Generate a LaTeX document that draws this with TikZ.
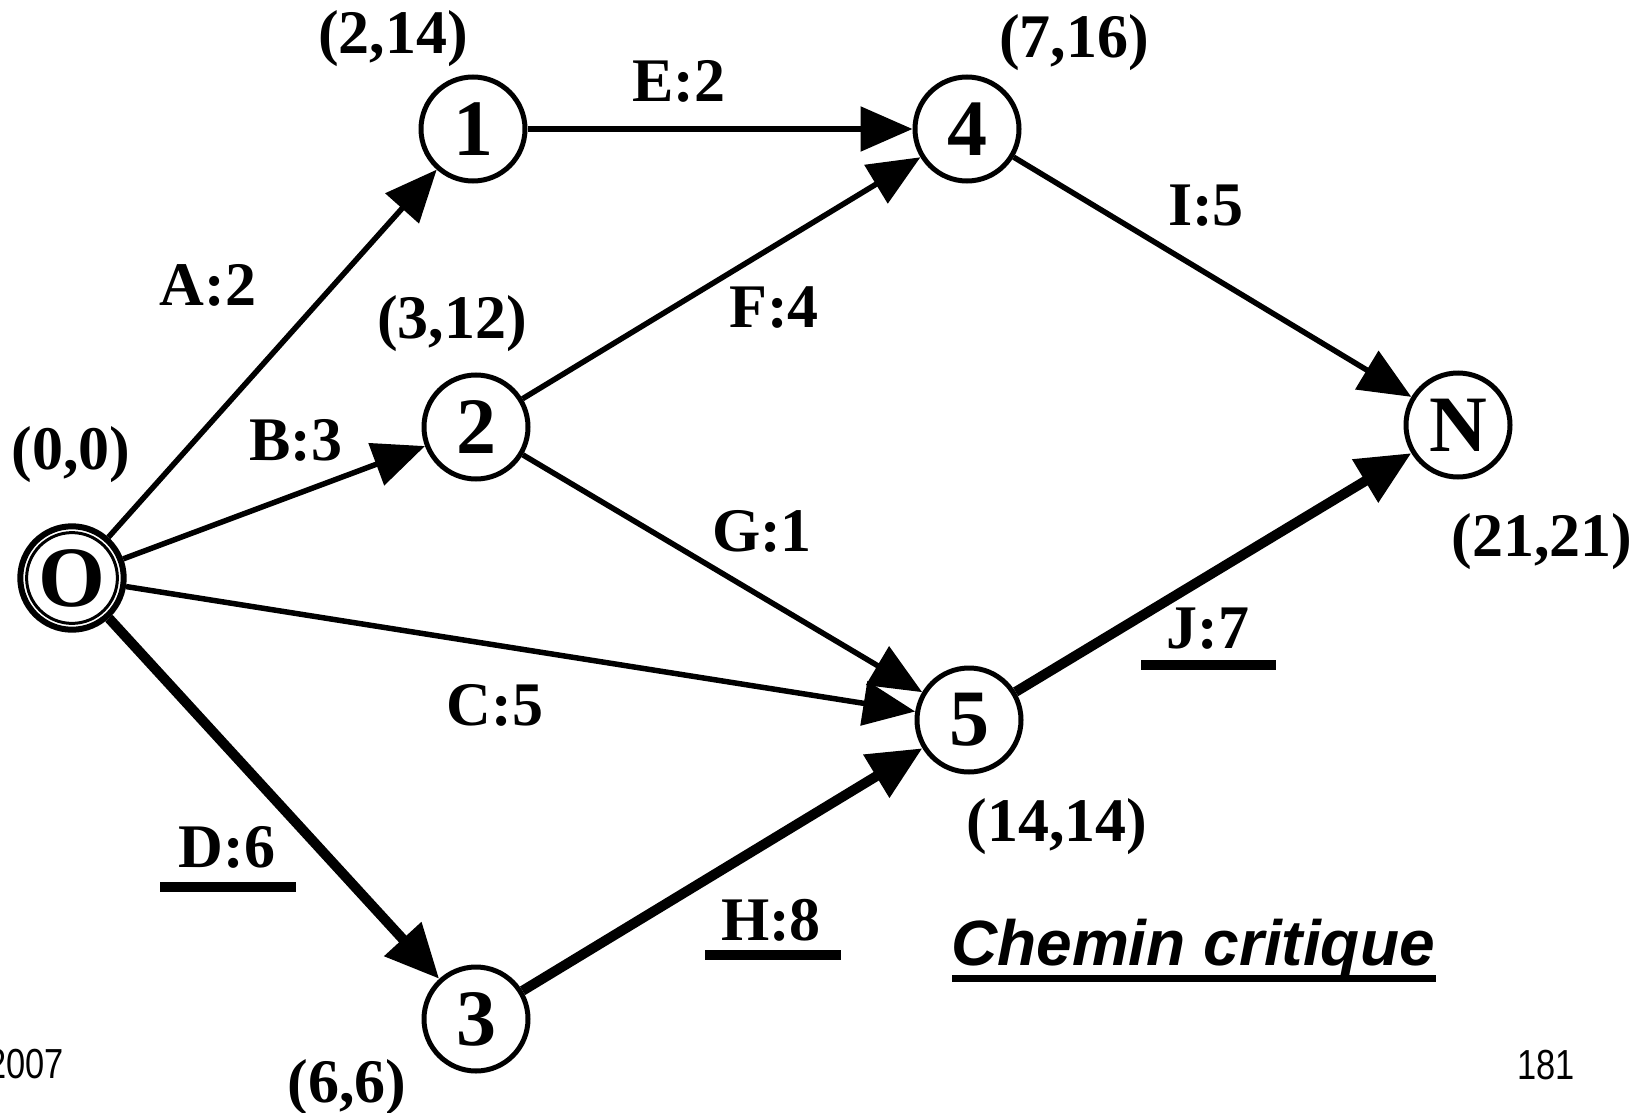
\documentclass[tikz,border=0pt]{standalone}
\usepackage{fontspec}
\setmainfont{Liberation Serif}
\newfontfamily\arialfont{Liberation Sans}
\newfontfamily\narrowfont[FakeStretch=0.82]{Liberation Sans}
\usetikzlibrary{arrows.meta}
\begin{document}
\begin{tikzpicture}[x=1pt,y=-1pt,
  ev/.style={circle, draw, line width=5pt, minimum size=104pt, inner sep=0pt,
    font=\fontsize{80}{80}\selectfont\bfseries},
  evstart/.style={ev, line width=6pt, minimum size=103.4pt,
    font=\fontsize{86}{86}\selectfont\bfseries,
    path picture={\draw[line width=3pt] (path picture bounding box.center) circle[radius=45.4pt];}},
  lab/.style={font=\fontsize{62}{62}\selectfont\bfseries, inner sep=0pt},
  act/.style={line width=5.5pt, -{Triangle[length=52pt,width=44pt]}},
  crit/.style={line width=10pt, -{Triangle[length=54pt,width=48pt]}},
  uline/.style={line width=10pt},
  foot/.style={font=\narrowfont\fontsize{42}{42}\selectfont, inner sep=0pt},
]
\useasboundingbox (0,0) rectangle (1649,1113);

% events
\node[evstart] (O) at (72,578) {O};
\node[ev] (n1) at (473,129) {1};
\node[ev] (n2) at (476,427) {2};
\node[ev] (n3) at (476,1019) {3};
\node[ev] (n4) at (967,129) {4};
\node[ev] (n5) at (969,720) {5};
\node[ev] (nN) at (1458,425) {N};

% dates
\node[lab] (t0) at (71,455) {(0,0)};
\node[lab] (t1) at (393,39) {(2,14)};
\node[lab] (t2) at (452,324) {(3,12)};
\node[lab] (t3) at (347,1088) {(6,6)};
\node[lab] (t4) at (1074,43) {(7,16)};
\node[lab] (t5) at (1057,827) {(14,14)};
\node[lab] (tN) at (1542,542) {(21,21)};

% activities
\draw[act] (O) -- (n1);
\draw[act] (O) -- (n2);
\draw[act] (O) -- (n5);
\draw[crit] (O) -- (n3);
\draw[act] (n1) -- (n4);
\draw[act] (n2) -- (n4);
\draw[act] (n2) -- (n5);
\draw[crit] (n3) -- (n5);
\draw[act] (n4) -- (nN);
\draw[crit] (n5) -- (nN);

% activity labels
\node[lab] (lA) at (208,285) {A:2};
\node[lab] (lB) at (296,440) {B:3};
\node[lab] (lC) at (495,705) {C:5};
\node[lab] (lD) at (227,847) {D:6};
\node[lab] (lE) at (679,81) {E:2};
\node[lab] (lF) at (774,308) {F:4};
\node[lab] (lG) at (762,531) {G:1};
\node[lab] (lH) at (771,920) {H:8};
\node[lab] (lI) at (1206,206) {I:5};
\node[lab] (lJ) at (1208,629) {J:7};

% underlines of critical activities
\draw[uline] (160,887) -- (296,887);
\draw[uline] (705,955) -- (841,955);
\draw[uline] (1141,665) -- (1276,665);

% legend
\node[font=\arialfont\fontsize{64}{64}\selectfont\bfseries\itshape, inner sep=0pt, anchor=base] (leg) at (1193,965) {Chemin critique};
\draw[line width=7pt] (952,978) -- (1436,978);

% footer
\node[foot, anchor=east] (year) at (64,1064) {2007};
\node[foot] (page) at (1546,1065) {181};
\end{tikzpicture}
\end{document}
